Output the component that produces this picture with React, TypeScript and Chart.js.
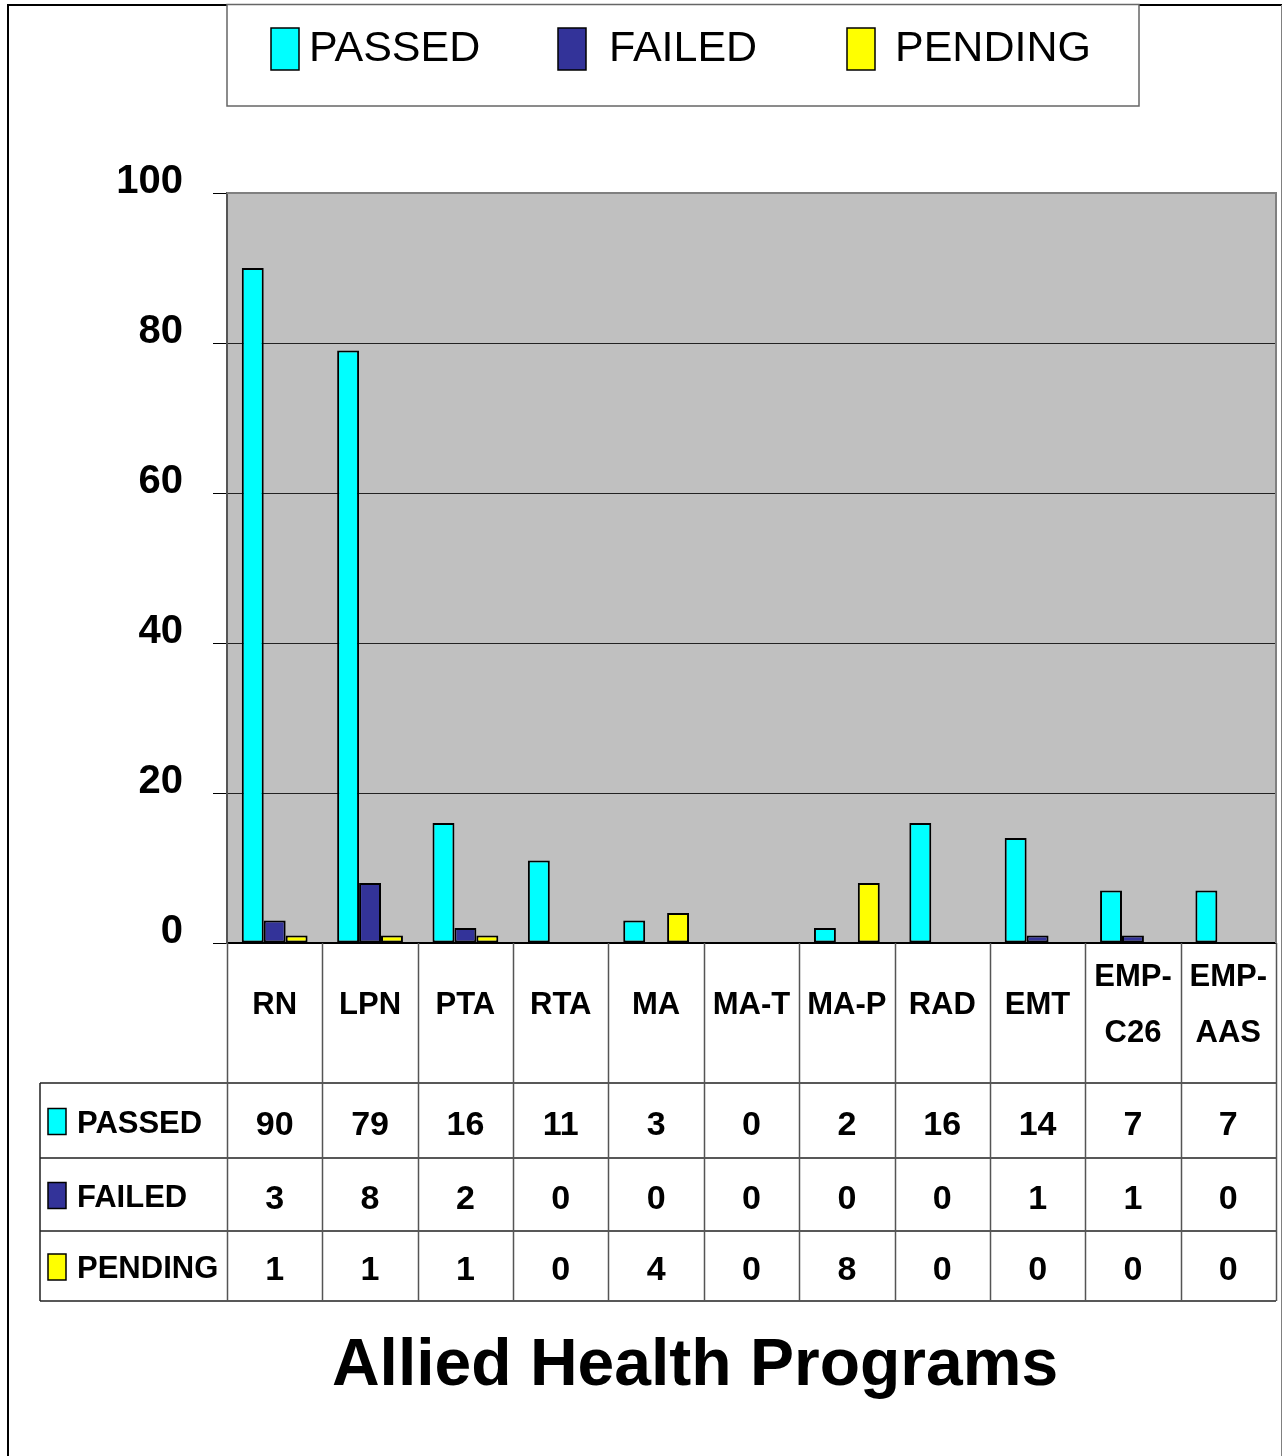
import { useEffect, useRef } from "react";
import { Chart, registerables } from "chart.js";

Chart.register(...registerables);

const categories: (string | string[])[] = [
  "RN", "LPN", "PTA", "RTA", "MA", "MA-T", "MA-P", "RAD", "EMT",
  ["EMP-", "C26"], ["EMP-", "AAS"],
];
const seriesNames = ["PASSED", "FAILED", "PENDING"];
const seriesColors = ["#00FFFF", "#333399", "#FFFF00"];
const passed = [90, 79, 16, 11, 3, 0, 2, 16, 14, 7, 7];
const failed = [3, 8, 2, 0, 0, 0, 0, 0, 1, 1, 0];
const pending = [1, 1, 1, 0, 4, 0, 8, 0, 0, 0, 0];
const yMin = 0;
const yMax = 100;
const yStep = 20;
const chartTitle = "Allied Health Programs";

const FONT = "'Liberation Sans', Arial, Helvetica, sans-serif";

const decor = {
  id: "decor",
  beforeDraw(chart: any) {
    const { ctx, chartArea: a, width, height } = chart;
    ctx.save();
    ctx.fillStyle = "#FFFFFF";
    ctx.fillRect(0, 0, width, height);
    ctx.fillStyle = "#C0C0C0";
    ctx.fillRect(a.left, a.top, a.right - a.left, a.bottom - a.top);
    ctx.restore();
  },
  afterDraw(chart: any) {
    const { ctx, chartArea: a } = chart;
    const xs = chart.scales.x;
    const n = chart.data.labels.length;
    const colW = (a.right - a.left) / n;
    const datasets = chart.data.datasets;
    ctx.save();

    // plot area border (top, right)
    ctx.strokeStyle = "#808080";
    ctx.lineWidth = 2;
    ctx.beginPath();
    ctx.moveTo(a.left, a.top);
    ctx.lineTo(a.right, a.top);
    ctx.lineTo(a.right, a.bottom);
    ctx.stroke();

    // data table
    const headerBottom = a.bottom + 140;
    const rowHs = [75, 73, 70];
    const tableLeft = 40;
    const rowTops = [headerBottom, headerBottom + rowHs[0], headerBottom + rowHs[0] + rowHs[1]];
    const tableBottom = rowTops[2] + rowHs[2];

    ctx.strokeStyle = "#222";
    ctx.lineWidth = 1.5;
    ctx.beginPath();
    [...rowTops, tableBottom].forEach((y) => {
      ctx.moveTo(tableLeft, y);
      ctx.lineTo(a.right, y);
    });
    ctx.moveTo(tableLeft, headerBottom);
    ctx.lineTo(tableLeft, tableBottom);
    ctx.stroke();

    ctx.strokeStyle = "#555";
    ctx.lineWidth = 1.5;
    ctx.beginPath();
    for (let i = 0; i <= n; i++) {
      const x = Math.round(a.left + i * colW) + 0.5;
      ctx.moveTo(x, a.bottom);
      ctx.lineTo(x, tableBottom);
    }
    ctx.stroke();

    // values & row labels
    datasets.forEach((ds: any, r: number) => {
      const cy = rowTops[r] + rowHs[r] / 2;
      ctx.font = `bold 34px ${FONT}`;
      ctx.fillStyle = "#000";
      ctx.textAlign = "center";
      ctx.textBaseline = "alphabetic";
      ds.data.forEach((v: number, i: number) => {
        ctx.fillText(String(v), xs.getPixelForValue(i), cy + 14);
      });
      // legend key
      ctx.fillStyle = ds.backgroundColor;
      ctx.fillRect(48, cy - 12, 18, 26);
      ctx.strokeStyle = "#000";
      ctx.lineWidth = 1.5;
      ctx.strokeRect(48, cy - 12, 18, 26);
      ctx.fillStyle = "#000";
      ctx.textAlign = "left";
      ctx.font = `bold 31px ${FONT}`;
      ctx.fillText(ds.label, 77, cy + 12);
    });

    // outer frame
    ctx.strokeStyle = "#000";
    ctx.lineWidth = 2;
    ctx.beginPath();
    ctx.moveTo(8, 1460);
    ctx.lineTo(8, 5);
    ctx.lineTo(1282, 5);
    ctx.stroke();
    ctx.strokeStyle = "#808080";
    ctx.lineWidth = 1;
    ctx.beginPath();
    ctx.moveTo(1281.5, 5);
    ctx.lineTo(1281.5, 1460);
    ctx.stroke();

    // legend box
    ctx.fillStyle = "#FFF";
    ctx.fillRect(227, 4, 912, 102);
    ctx.strokeStyle = "#666";
    ctx.lineWidth = 1.5;
    ctx.strokeRect(227, 4.5, 912, 101.5);
    const keyX = [271, 558, 847];
    const textX = [309, 609, 895];
    datasets.forEach((ds: any, i: number) => {
      ctx.fillStyle = ds.backgroundColor;
      ctx.fillRect(keyX[i], 28, 28, 42);
      ctx.strokeStyle = "#000";
      ctx.lineWidth = 1.5;
      ctx.strokeRect(keyX[i], 28, 28, 42);
      ctx.fillStyle = "#000";
      ctx.textAlign = "left";
      ctx.textBaseline = "alphabetic";
      ctx.font = `43px ${FONT}`;
      ctx.fillText(ds.label, textX[i], 61);
    });

    ctx.restore();
  },
};

export default function App() {
  const ref = useRef<HTMLCanvasElement | null>(null);

  useEffect(() => {
    if (!ref.current) return;
    const seriesValues = [passed, failed, pending];
    const chart = new Chart(ref.current, {
      type: "bar",
      data: {
        labels: categories,
        datasets: seriesNames.map((name, i) => ({
          label: name,
          data: seriesValues[i],
          backgroundColor: seriesColors[i],
          borderColor: "#000",
          borderWidth: (c: any) => (c.raw === 0 ? 0 : 2),
          borderSkipped: false,
          categoryPercentage: 0.69,
          barPercentage: 1.0,
        })),
      },
      options: {
        responsive: false,
        animation: false,
        layout: { padding: { top: 193, left: 114, right: 7, bottom: 0 } },
        plugins: {
          legend: { display: false },
          tooltip: { enabled: false },
          title: {
            display: true,
            position: "bottom",
            text: chartTitle,
            color: "#000",
            font: { family: FONT, size: 66, weight: "bold", lineHeight: 1 },
            padding: { top: 251, bottom: 56 },
          },
        },
        scales: {
          x: {
            afterFit: (s: any) => {
              s.height = 140;
              s.paddingLeft = 0;
              s.paddingRight = 0;
            },
            grid: { display: false, drawTicks: false },
            border: { display: true, color: "#000", width: 2 },
            ticks: {
              color: "#000",
              padding: 34,
              maxRotation: 0,
              autoSkip: false,
              crossAlign: "center",
              font: { family: FONT, size: 31, weight: "bold", lineHeight: "56px" },
            },
          },
          y: {
            min: yMin,
            max: yMax,
            afterFit: (s: any) => {
              s.width = 113;
            },
            grid: { color: "#222", lineWidth: 1, drawTicks: true, tickLength: 14, tickColor: "#000" },
            border: { display: true, color: "#555", width: 2 },
            ticks: {
              stepSize: yStep,
              color: "#000",
              padding: 30,
              labelOffset: -11,
              font: { family: FONT, size: 40, weight: "bold" },
            },
          },
        },
      },
      plugins: [decor],
    } as any);
    return () => chart.destroy();
  }, []);

  return (
    <div style={{ position: "absolute", left: 0, top: 0, width: 1283, height: 1456 }}>
      <canvas ref={ref} width={1283} height={1456} style={{ display: "block" }} />
    </div>
  );
}
